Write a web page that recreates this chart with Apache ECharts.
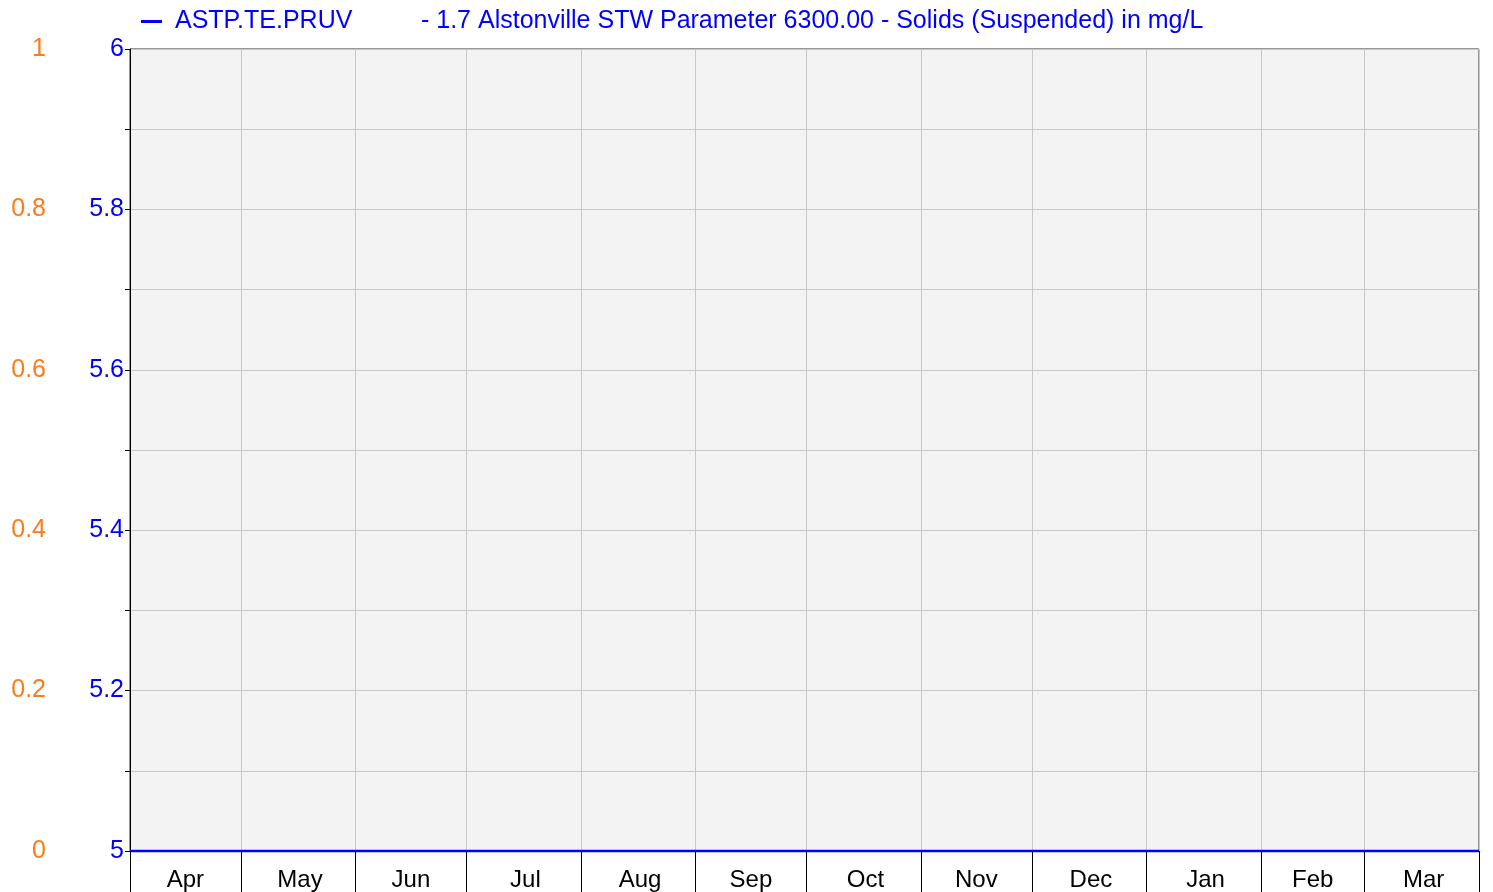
<!DOCTYPE html>
<html>
<head>
<meta charset="utf-8">
<script src="https://cdn.jsdelivr.net/npm/echarts@6/dist/echarts.min.js"></script>
<style>html,body{margin:0;padding:0;background:#fff}#c{width:1493px;height:892px}</style>
</head>
<body>
<div id="c"></div>
<script>
// ---- data ----
const seriesName = 'ASTP.TE.PRUV';
const seriesDescription = '- 1.7 Alstonville STW Parameter 6300.00 - Solids (Suspended) in mg/L';
const startDate = '2022-04-01';
const endDate = '2023-04-01';
const monthNames = ['Jan','Feb','Mar','Apr','May','Jun','Jul','Aug','Sep','Oct','Nov','Dec'];
const sampleDates = ['2022-04-01','2022-05-01','2022-06-01','2022-07-01','2022-08-01','2022-09-01','2022-10-01','2022-11-01','2022-12-01','2023-01-01','2023-02-01','2023-03-01','2023-04-01'];
const sampleValues = [5, 5, 5, 5, 5, 5, 5, 5, 5, 5, 5, 5, 5];
const leftTicksBlue = {min: 5, max: 6, step: 0.1};
const leftTicksOrange = {min: 0, max: 1, step: 0.2};

// ---- day categories ----
function fmt(d){
  const m = d.getUTCMonth()+1, dd = d.getUTCDate();
  return d.getUTCFullYear()+'-'+(m<10?'0':'')+m+'-'+(dd<10?'0':'')+dd;
}
const days = [];
for (let t = Date.parse(startDate+'T00:00:00Z'); t <= Date.parse(endDate+'T00:00:00Z'); t += 86400000) {
  days.push(fmt(new Date(t)));
}
// label at the middle of each month
const labelDays = new Set();
const monthStarts = days.map((d,i)=>[d,i]).filter(p=>p[0].endsWith('-01')).map(p=>p[1]);
for (let k = 0; k < monthStarts.length-1; k++) {
  const s = monthStarts[k], e = monthStarts[k+1];
  labelDays.add(days[s + Math.round((e-s)/2)]);
}

const chart = echarts.init(document.getElementById('c'), null, {renderer:'canvas'});
const FONT = '"Liberation Sans", Arial, sans-serif';
chart.setOption({
  animation: false,
  textStyle: {fontFamily: FONT},
  legend: {
    left: 136, top: 4,
    icon: 'rect', itemWidth: 21, itemHeight: 3,
    data: [seriesName],
    formatter: n => '{a|' + n + '}{b|' + seriesDescription + '}',
    textStyle: {
      fontFamily: FONT, fontSize: 25, color: '#0000ff',
      rich: {
        a: {fontFamily: FONT, fontSize: 25, color: '#0000ff', width: 246, padding: [0,0,0,8]},
        b: {fontFamily: FONT, fontSize: 25, color: '#0000ff'}
      }
    }
  },
  grid: {
    left: 130, right: 14, top: 49, bottom: 41,
    show: true, backgroundColor: '#f3f3f3', borderColor: '#333', borderWidth: 1
  },
  xAxis: [{
    type: 'category', data: days, boundaryGap: false,
    axisLine: {show: true, lineStyle: {color: '#000'}},
    axisTick: {show: true, length: 41, interval: (i, v) => v.endsWith('-01'), lineStyle: {color: '#000', width: 1}},
    splitLine: {show: true, interval: (i, v) => v.endsWith('-01'), lineStyle: {color: '#c8c8c8', width: 1}},
    axisLabel: {
      interval: (i, v) => labelDays.has(v),
      formatter: v => monthNames[parseInt(v.slice(5,7),10)-1],
      color: '#000', fontSize: 24, margin: 17, fontFamily: FONT
    }
  }],
  yAxis: [{
    type: 'value', position: 'left',
    min: leftTicksBlue.min, max: leftTicksBlue.max, interval: leftTicksBlue.step,
    axisLine: {show: true, lineStyle: {color: '#000'}},
    axisTick: {show: true, length: 5, lineStyle: {color: '#000'}},
    splitLine: {show: true, lineStyle: {color: '#c8c8c8', width: 1}},
    axisLabel: {
      color: '#0000ff', fontSize: 25, margin: 6, fontFamily: FONT,
      formatter: v => (Math.round(v*10) % 2 === 0 ? String(+v.toFixed(1)) : '')
    }
  }, {
    type: 'value', position: 'left', offset: 78,
    min: leftTicksOrange.min, max: leftTicksOrange.max, interval: leftTicksOrange.step,
    axisLine: {show: false}, axisTick: {show: false}, splitLine: {show: false},
    axisLabel: {color: '#ff7a1a', fontSize: 25, margin: 6, fontFamily: FONT,
      formatter: v => String(+v.toFixed(1))}
  }],
  series: [{
    name: seriesName, type: 'line', xAxisIndex: 0, yAxisIndex: 0,
    data: sampleDates.map((d, i) => [d, sampleValues[i]]),
    showSymbol: false, symbol: 'none',
    lineStyle: {color: '#0000ff', width: 2.5}, itemStyle: {color: '#0000ff'},
    clip: false
  }]
});
</script>
</body>
</html>
